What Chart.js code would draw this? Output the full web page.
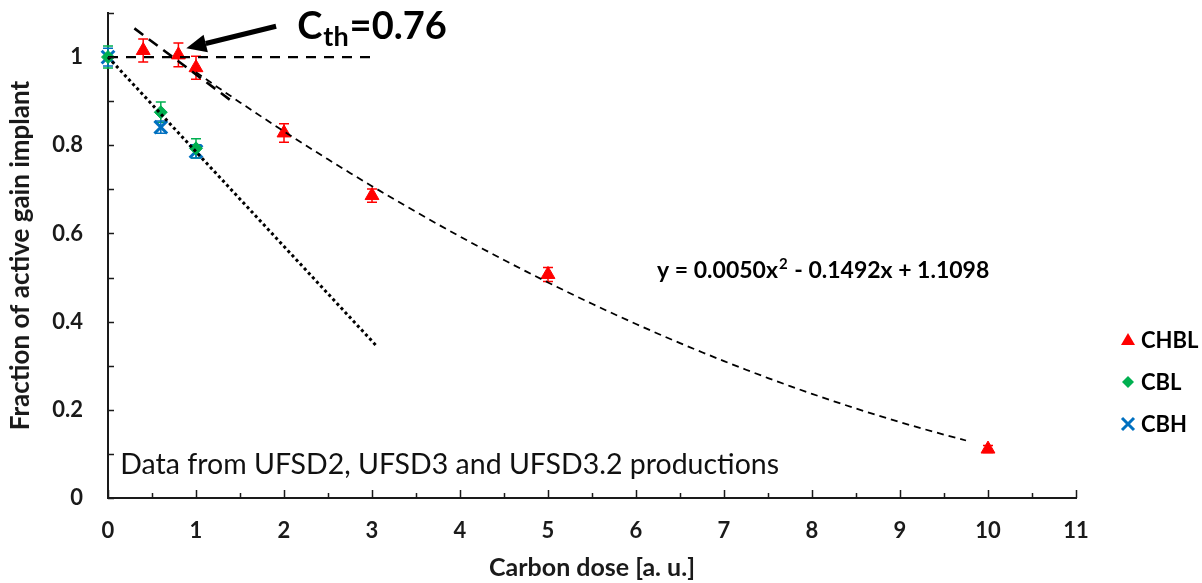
<!DOCTYPE html>
<html>
<head>
<meta charset="utf-8">
<script src="https://cdn.jsdelivr.net/npm/chart.js@4.4.1/dist/chart.umd.min.js"></script>
<style>
  html, body { margin: 0; padding: 0; background: #ffffff; }
  #wrap { width: 1202px; height: 583px; }
</style>
</head>
<body>
<div id="wrap"><canvas id="chart" width="1202" height="583"></canvas></div>
<script>
// ---- measured series ----
const chblDose = [0.4, 0.8, 1, 2, 3, 5, 10];
const chblFrac = [1.015, 1.005, 0.976, 0.828, 0.686, 0.507, 0.111];
const chblErr  = [0.026, 0.027, 0.026, 0.021, 0.015, 0.016, 0.008];

const cblDose = [0, 0.6, 1];
const cblFrac = [1.0, 0.875, 0.793];
const cblErr  = [0.025, 0.023, 0.022];

const cbhDose = [0, 0.6, 1];
const cbhFrac = [1.0, 0.841, 0.786];
const cbhErr  = [0.02, 0.014, 0.015];

// ---- fits and guide lines ----
// quadratic trendline printed on the chart: c0 + c1*x + c2*x^2
const fitCoef = [1.1098, -0.1492, 0.0050];
const fitRange = [1, 9.85];
const tangentRange = [0.3, 1.4];     // initial slope of the trendline
const levelX = [0, 3.03];            // full-activity level
const levelY = [1, 1];
const cbFitX = [0, 3.06];            // linear trend of CBL / CBH
const cbFitY = [1, 0.343];

// ---- ticks ----
const xTickLabels = [0, 1, 2, 3, 4, 5, 6, 7, 8, 9, 10, 11];
const yTickLabels = [0, 0.2, 0.4, 0.6, 0.8, 1];

const seriesNames = ['CHBL', 'CBL', 'CBH'];
const RED = '#FF0000', GREEN = '#00B050', BLUE = '#0070C0', INK = '#1a1a1a';

const zip = (xs, ys) => xs.map((x, i) => ({ x, y: ys[i] }));
const quad = x => fitCoef[0] + fitCoef[1] * x + fitCoef[2] * x * x;

const fitPts = [];
for (let x = fitRange[0]; x <= fitRange[1] + 1e-9; x += 0.25) fitPts.push({ x, y: quad(x) });
const tangentPts = tangentRange.map(x => ({ x, y: fitCoef[0] + fitCoef[1] * x }));

Chart.defaults.font.family = 'Lato, "Open Sans", sans-serif';
Chart.defaults.color = INK;

// error bars behind the markers
const errorBars = {
  id: 'errorBars',
  beforeDatasetsDraw(chart) {
    const { ctx, scales: { x, y } } = chart;
    const sets = [[chblDose, chblFrac, chblErr, RED], [cblDose, cblFrac, cblErr, GREEN], [cbhDose, cbhFrac, cbhErr, BLUE]];
    ctx.save();
    ctx.lineWidth = 1.5;
    sets.forEach(([xs, ys, es, col]) => {
      ctx.strokeStyle = col;
      xs.forEach((xv, i) => {
        const px = x.getPixelForValue(xv);
        const top = y.getPixelForValue(ys[i] + es[i]);
        const bot = y.getPixelForValue(ys[i] - es[i]);
        ctx.beginPath();
        ctx.moveTo(px, top); ctx.lineTo(px, bot);
        ctx.moveTo(px - 5, top); ctx.lineTo(px + 5, top);
        ctx.moveTo(px - 5, bot); ctx.lineTo(px + 5, bot);
        ctx.stroke();
      });
    });
    ctx.restore();
  }
};

// inward tick marks, annotation, legend
const decorations = {
  id: 'decorations',
  afterDraw(chart) {
    const { ctx, chartArea: a, scales: { x, y } } = chart;
    ctx.save();
    ctx.strokeStyle = INK;
    ctx.lineWidth = 1.5;
    ctx.beginPath();
    for (let v = 0; v <= 11 + 1e-9; v += 0.5) {
      const px = Math.round(x.getPixelForValue(v)) + 0.5;
      const len = Math.abs(v - Math.round(v)) < 1e-6 ? 8 : 5;
      ctx.moveTo(px, a.bottom); ctx.lineTo(px, a.bottom - len);
    }
    for (let v = 0; v <= 1.1 + 1e-9; v += 0.1) {
      const py = Math.round(y.getPixelForValue(v)) + 0.5;
      ctx.moveTo(a.left, py); ctx.lineTo(a.left + 6, py);
    }
    ctx.stroke();

    // threshold arrow
    const tipX = x.getPixelForValue(0.89), tipY = y.getPixelForValue(1.02);
    const tailX = x.getPixelForValue(1.91), tailY = y.getPixelForValue(1.07);
    const ang = Math.atan2(tipY - tailY, tipX - tailX);
    const headLen = 20, headW = 9;
    const bx = tipX - headLen * Math.cos(ang), by = tipY - headLen * Math.sin(ang);
    ctx.strokeStyle = '#000'; ctx.fillStyle = '#000';
    ctx.lineWidth = 5; ctx.lineCap = 'butt';
    ctx.beginPath(); ctx.moveTo(tailX, tailY); ctx.lineTo(bx, by); ctx.stroke();
    ctx.beginPath();
    ctx.moveTo(tipX, tipY);
    ctx.lineTo(bx + headW * Math.sin(ang), by - headW * Math.cos(ang));
    ctx.lineTo(bx - headW * Math.sin(ang), by + headW * Math.cos(ang));
    ctx.closePath(); ctx.fill();

    // C_th label
    let tx = x.getPixelForValue(2.15);
    const ty = y.getPixelForValue(1.04);
    ctx.textBaseline = 'alphabetic'; ctx.textAlign = 'left';
    ctx.font = 'bold 38px Lato';
    ctx.fillText('C', tx, ty); tx += ctx.measureText('C').width + 1;
    ctx.font = 'bold 27px Lato';
    ctx.fillText('th', tx, ty + 7); tx += ctx.measureText('th').width + 1;
    ctx.font = 'bold 38px Lato';
    ctx.fillText('=0.76', tx, ty);

    // fit equation
    ctx.font = 'bold 23px Lato';
    let ex = x.getPixelForValue(6.24);
    const ey = y.getPixelForValue(0.5) + 0;
    const p1 = 'y = 0.0050x';
    ctx.fillText(p1, ex, ey); ex += ctx.measureText(p1).width;
    ctx.font = 'bold 15px Lato';
    ctx.fillText('2', ex + 1, ey - 9); ex += ctx.measureText('2').width + 2;
    ctx.font = 'bold 23px Lato';
    ctx.fillText(' - 0.1492x + 1.1098', ex, ey);

    // data source note
    ctx.font = '28.5px Lato';
    ctx.fillStyle = '#111';
    ctx.fillText('Data from UFSD2, UFSD3 and UFSD3.2 productions', x.getPixelForValue(0.14), y.getPixelForValue(0.055));

    // legend
    const lx = 1128, rows = [340, 382, 424];
    ctx.font = 'bold 22px Lato';
    ctx.textBaseline = 'middle';
    seriesNames.forEach((name, i) => {
      const cy = rows[i];
      if (i === 0) {
        ctx.fillStyle = RED;
        ctx.beginPath();
        ctx.moveTo(lx, cy - 7); ctx.lineTo(lx + 7, cy + 5); ctx.lineTo(lx - 7, cy + 5);
        ctx.closePath(); ctx.fill();
      } else if (i === 1) {
        ctx.fillStyle = GREEN;
        ctx.beginPath();
        ctx.moveTo(lx, cy - 6); ctx.lineTo(lx + 6, cy); ctx.lineTo(lx, cy + 6); ctx.lineTo(lx - 6, cy);
        ctx.closePath(); ctx.fill();
      } else {
        ctx.strokeStyle = BLUE; ctx.lineWidth = 3;
        ctx.beginPath();
        ctx.moveTo(lx - 6, cy - 6); ctx.lineTo(lx + 6, cy + 6);
        ctx.moveTo(lx + 6, cy - 6); ctx.lineTo(lx - 6, cy + 6);
        ctx.stroke();
      }
      ctx.fillStyle = '#000';
      ctx.fillText(name, lx + 13, cy + 1);
    });
    ctx.restore();
  }
};

const lineBase = { showLine: true, pointRadius: 0, borderColor: '#000', fill: false, tension: 0, clip: false, order: 0 };

new Chart(document.getElementById('chart'), {
  type: 'scatter',
  data: {
    datasets: [
      { label: seriesNames[0], data: zip(chblDose, chblFrac), pointStyle: 'triangle', pointRadius: 8,
        backgroundColor: RED, borderColor: RED, borderWidth: 1, clip: false, order: 1 },
      { label: seriesNames[1], data: zip(cblDose, cblFrac), pointStyle: 'rectRot', pointRadius: 6.5,
        backgroundColor: GREEN, borderColor: GREEN, borderWidth: 1, clip: false, order: 1 },
      { label: seriesNames[2], data: zip(cbhDose, cbhFrac), pointStyle: 'crossRot', pointRadius: 9,
        backgroundColor: BLUE, borderColor: BLUE, borderWidth: 3, clip: false, order: 1 },
      { ...lineBase, label: 'fit', data: fitPts, borderWidth: 1.8, borderDash: [7, 5] },
      { ...lineBase, label: 'tangent', data: tangentPts, borderWidth: 2.6, borderDash: [11, 7] },
      { ...lineBase, label: 'level', data: zip(levelX, levelY), borderWidth: 2.4, borderDash: [10, 8] },
      { ...lineBase, label: 'cbfit', data: zip(cbFitX, cbFitY), borderWidth: 3, borderDash: [3, 3] }
    ]
  },
  options: {
    responsive: false,
    animation: false,
    devicePixelRatio: 1,
    layout: { padding: { top: 13, right: 126, left: 0, bottom: 0 } },
    plugins: { legend: { display: false }, tooltip: { enabled: false } },
    scales: {
      x: {
        type: 'linear', min: 0, max: 11,
        afterBuildTicks: s => { s.ticks = xTickLabels.map(v => ({ value: v })); },
        afterFit: s => { s.height = 85; s.paddingLeft = 0; s.paddingRight = 0; },
        grid: { display: false, drawTicks: false },
        border: { display: true, color: INK, width: 2 },
        ticks: { padding: 20, color: INK, font: { size: 22, weight: 'bold' }, callback: v => String(v), maxRotation: 0 },
        title: { display: true, text: 'Carbon dose [a. u.]', color: INK, font: { size: 25, weight: 'bold' }, padding: { top: 0, bottom: 0 } }
      },
      y: {
        type: 'linear', min: 0, max: 1.1,
        afterBuildTicks: s => { s.ticks = yTickLabels.map(v => ({ value: v })); },
        afterFit: s => { s.width = 108; s.paddingTop = 0; s.paddingBottom = 0; },
        grid: { display: false, drawTicks: false },
        border: { display: true, color: INK, width: 2 },
        ticks: { padding: 25, color: INK, font: { size: 22, weight: 'bold' }, callback: v => String(v) },
        title: { display: true, text: 'Fraction of active gain implant', color: INK, font: { size: 26, weight: 'bold' }, padding: { top: 5, bottom: 0 } }
      }
    }
  },
  plugins: [errorBars, decorations]
});
</script>
</body>
</html>
